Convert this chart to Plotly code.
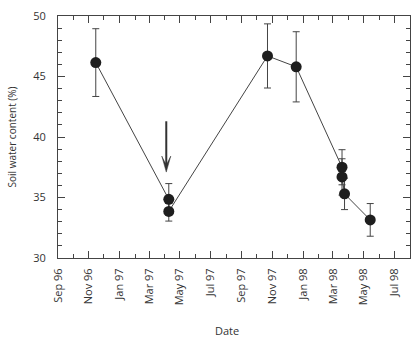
import plotly.graph_objects as go

dates = ["1996-11-15", "1997-04-09", "1997-04-09", "1997-10-22", "1997-12-18",
         "1998-03-19", "1998-03-19", "1998-03-24", "1998-05-14"]
swc = [46.15, 34.85, 33.85, 46.7, 45.8, 37.5, 36.7, 35.3, 33.15]
err = [2.8, 1.3, 0.8, 2.65, 2.9, 1.45, 1.5, 1.3, 1.35]

arrow_date = "1997-04-04"
arrow_top = 41.3
arrow_tip = 37.1

fig = go.Figure()
fig.add_trace(go.Scatter(
    x=dates, y=swc, mode="lines+markers",
    line=dict(color="#444444", width=1),
    marker=dict(size=11, color="#1e1e1e", line=dict(width=0)),
    error_y=dict(type="data", array=err, visible=True, color="#444444",
                 thickness=1, width=3.5),
    showlegend=False,
))

# arrow shaft
fig.add_shape(type="line", xref="x", yref="y",
              x0=arrow_date, x1=arrow_date, y0=arrow_top, y1=arrow_tip + 0.6,
              line=dict(color="#333333", width=2))
# arrow head (pixel-sized, anchored at the tip)
fig.add_shape(type="path", xref="x", yref="y",
              xsizemode="pixel", ysizemode="pixel",
              xanchor=arrow_date, yanchor=arrow_tip,
              path="M0,0 L-4.5,16 L-1,9 L0,8.5 L1,9 L4.5,16 Z",
              fillcolor="#333333", line=dict(color="#333333", width=0.5))

fig.add_annotation(
    x=(227 - 58) / (419 - 58 - 8), y=-(332 - 258) / (340 - 11 - 82),
    xref="paper", yref="paper", yanchor="middle", text="Date", showarrow=False,
    font=dict(family="Open Sans", size=11, color="#333333"),
)

axis_common = dict(
    showgrid=False, zeroline=False, showline=True, linecolor="#444444",
    linewidth=1, mirror="allticks", ticks="inside", ticklen=7,
    tickcolor="#444444", tickwidth=1,
    tickfont=dict(family="Open Sans", size=11, color="#333333"),
)

fig.update_xaxes(
    **axis_common,
    type="date", range=["1996-09-01", "1998-08-01"],
    tick0="1996-09-01", dtick="M2", tickformat="%b %y", tickangle=-90,
    ticklabelstandoff=5,
    minor=dict(dtick="M1", ticks="inside", ticklen=4, tickcolor="#444444"),
)
fig.update_yaxes(
    **axis_common,
    range=[30, 50], dtick=5, tick0=30,
    ticklabelstandoff=9,
    minor=dict(dtick=1, ticks="inside", ticklen=4, tickcolor="#444444"),
    title=dict(text="Soil water content (%)",
               font=dict(family="Open Sans", size=10, color="#333333"),
               standoff=14),
)

fig.update_layout(
    width=419, height=340,
    margin=dict(l=58, r=8, t=11, b=82),
    paper_bgcolor="white", plot_bgcolor="white",
)

fig.write_html("out.html")
